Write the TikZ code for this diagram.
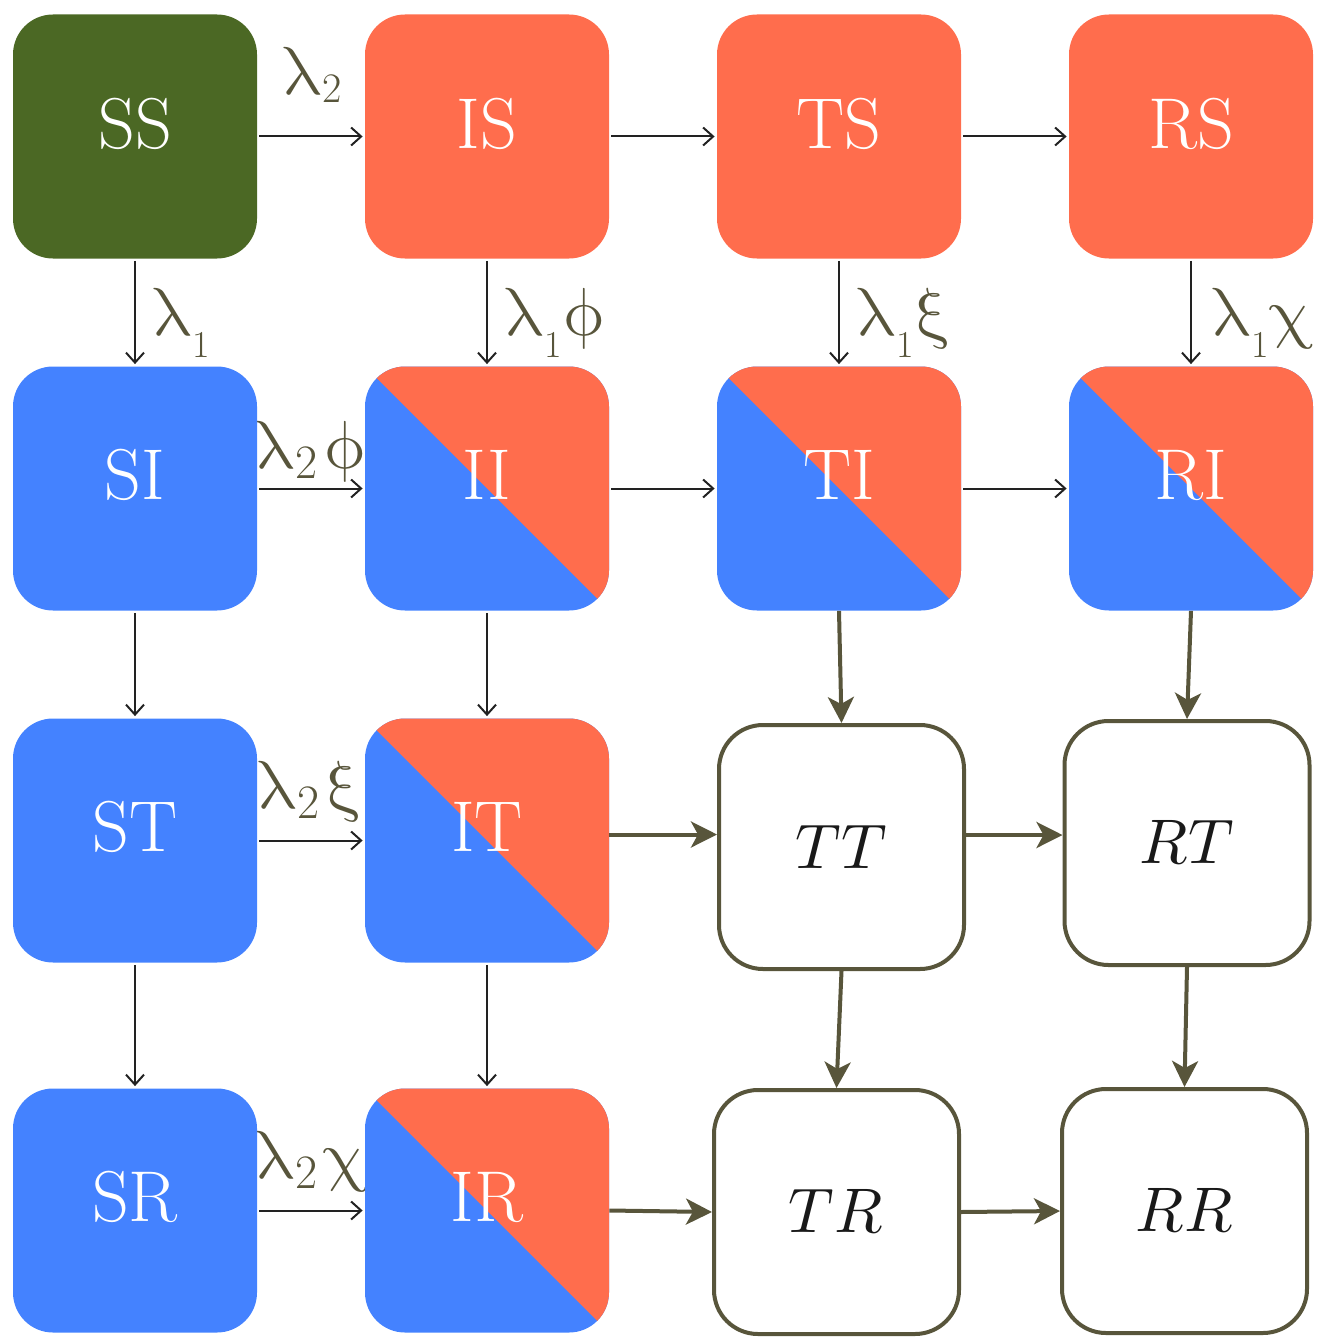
\documentclass[tikz,border=0pt]{standalone}
\usepackage{fontspec}
\usepackage{unicode-math}
\setmathfont{Latin Modern Math}
\usetikzlibrary{arrows.meta}
\definecolor{cgreen}{HTML}{4B6824}
\definecolor{cred}{HTML}{FF6D4D}
\definecolor{cblue}{HTML}{4482FF}
\definecolor{colive}{HTML}{58553B}
\definecolor{cthin}{HTML}{222222}
\newcommand{\glam}{$\symup{\lambda}$}
\newcommand{\subone}{\raisebox{-11pt}{\fontsize{19}{19}\selectfont 1}}
\newcommand{\subtwo}{\raisebox{-5pt}{\fontsize{24}{24}\selectfont 2}\hspace{3pt}}
\begin{document}
\begin{tikzpicture}[x=0.5pt,y=-0.5pt,
  box/.style={rectangle, rounded corners=20pt, minimum width=122pt, minimum height=122pt, inner sep=0pt, text=white, font=\fontsize{36}{40}\selectfont},
  gbox/.style={box, fill=cgreen},
  rbox/.style={box, fill=cred},
  bbox/.style={box, fill=cblue},
  split/.style={box, fill=cblue, path picture={\fill[cred, sharp corners] (path picture bounding box.north west) -- (path picture bounding box.north east) -- (path picture bounding box.south east) -- cycle;}},
  wbox/.style={rectangle, rounded corners=22pt, draw=colive, line width=2pt, fill=white, minimum width=122.5pt, minimum height=122pt, inner sep=0pt, text=black!90, font=\fontsize{31.5}{34}\selectfont},
  tarr/.style={draw=cthin, line width=1pt, -{Straight Barb[length=5pt,width=9pt,line width=1pt]}, shorten <=1pt, shorten >=1pt},
  karr/.style={draw=colive, line width=2pt, -{Stealth[length=13pt,width=13pt,inset=3.5pt]}},
  lab/.style={text=colive, font=\fontsize{34}{36}\selectfont, inner sep=0pt, anchor=base west}
]
\useasboundingbox (0,0) rectangle (1320,1338);

% labels (drawn first, boxes overlap them)
\node[lab] (l0) at (282,95) {\glam\raisebox{-4pt}{\fontsize{21}{21}\selectfont 2}};
\node[lab] (l1) at (152,335) {\glam\subone};
\node[lab] (l2) at (504,335) {\glam\subone$\symup{\phi}$};
\node[lab] (l3) at (856,335) {\glam\subone$\symup{\xi}$};
\node[lab] (l4) at (1211,335) {\glam\subone$\symup{\chi}$};
\node[lab] (l5) at (255,468) {\glam\subtwo$\symup{\phi}$};
\node[lab] (l6) at (257,808) {\glam\subtwo$\symup{\xi}$};
\node[lab] (l7) at (255,1178) {\glam\subtwo$\symup{\chi}$};

% row 1
\node[gbox] (SS) at (135,136.5) {\raisebox{13pt}{SS}};
\node[rbox] (IS) at (487,136.5) {\raisebox{13pt}{IS}};
\node[rbox] (TS) at (839,136.5) {\raisebox{13pt}{TS}};
\node[rbox] (RS) at (1191,136.5) {\raisebox{13pt}{RS}};
% row 2
\node[bbox] (SI) at (135,488.5) {\raisebox{14pt}{SI}};
\node[split] (II) at (487,488.5) {\raisebox{14pt}{II}};
\node[split] (TI) at (839,488.5) {\raisebox{14pt}{TI}};
\node[split] (RI) at (1191,488.5) {\raisebox{14pt}{RI}};
% row 3
\node[bbox] (ST) at (135,840.5) {\raisebox{14pt}{ST}};
\node[split] (IT) at (487,840.5) {\raisebox{14pt}{IT}};
\node[wbox] (TT) at (841.5,847) {$TT$};
\node[wbox] (RT) at (1187,843) {$RT$};
% row 4
\node[bbox] (SR) at (135,1210.5) {\raisebox{14pt}{SR}};
\node[split] (IR) at (487,1210.5) {\raisebox{14pt}{IR}};
\node[wbox] (TR) at (836.5,1212) {$TR$};
\node[wbox] (RR) at (1184.5,1211) {$RR$};

% thin arrows
\draw[tarr] (SS) -- (IS);
\draw[tarr] (IS) -- (TS);
\draw[tarr] (TS) -- (RS);
\draw[tarr] (SS) -- (SI);
\draw[tarr] (IS) -- (II);
\draw[tarr] (TS) -- (TI);
\draw[tarr] (RS) -- (RI);
\draw[tarr] (SI) -- (II);
\draw[tarr] (II) -- (TI);
\draw[tarr] (TI) -- (RI);
\draw[tarr] (SI) -- (ST);
\draw[tarr] (II) -- (IT);
\draw[tarr] (ST) -- (IT);
\draw[tarr] (ST) -- (SR);
\draw[tarr] (IT) -- (IR);
\draw[tarr] (SR) -- (IR);

% thick arrows
\draw[karr] (TI.south) -- (TT.north);
\draw[karr] (RI.south) -- (RT.north);
\draw[karr] ([yshift=3pt]IT.east) -- ([yshift=3pt]IT.east -| TT.west);
\draw[karr] ([yshift=6pt]TT.east) -- ([yshift=6pt]TT.east -| RT.west);
\draw[karr] (TT.south) -- (TR.north);
\draw[karr] (RT.south) -- (RR.north);
\draw[karr] (IR.east) -- (TR.west);
\draw[karr] (TR.east) -- (RR.west);
\end{tikzpicture}
\end{document}
